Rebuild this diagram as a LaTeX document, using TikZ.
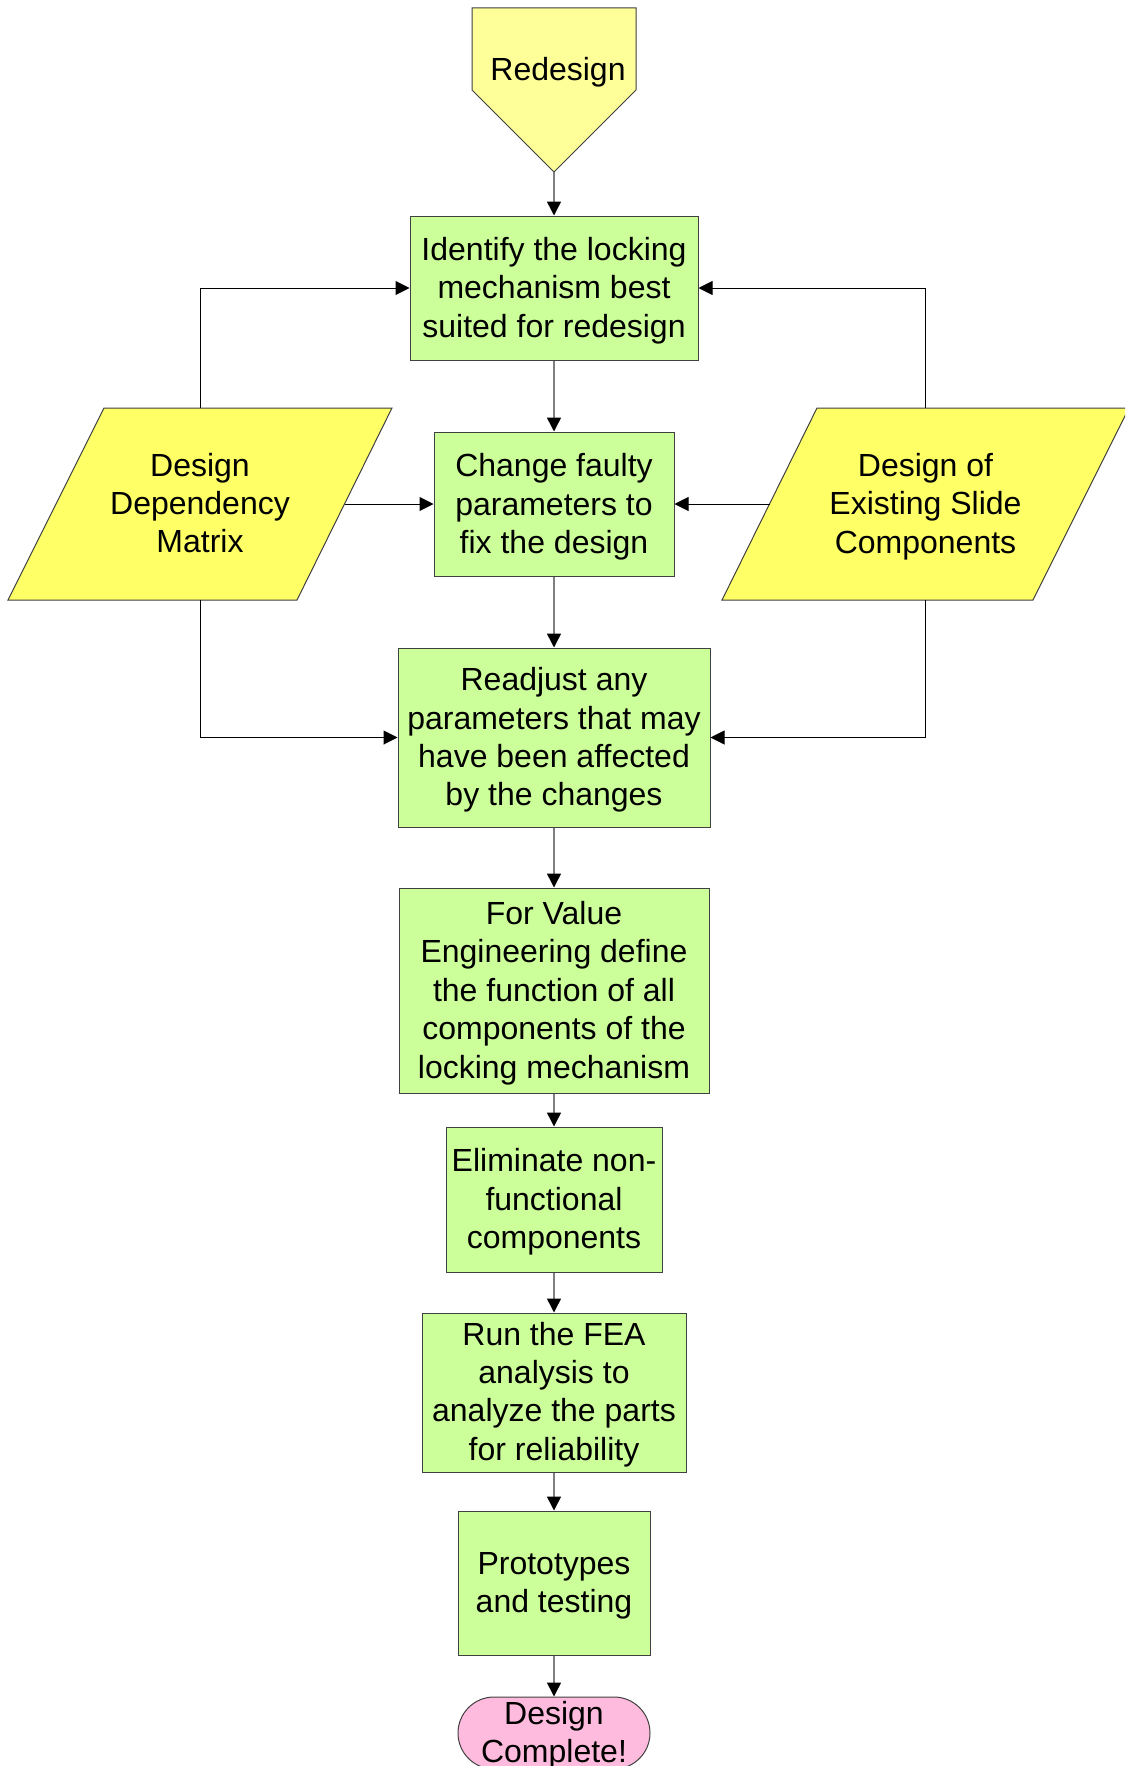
\documentclass[tikz,border=0pt]{standalone}
\usepackage{fontspec}
\setmainfont{Liberation Sans}
\usetikzlibrary{arrows.meta}

\definecolor{boxgreen}{HTML}{CCFF99}
\definecolor{inyellow}{HTML}{FFFF66}
\definecolor{startyellow}{HTML}{FFFF99}
\definecolor{endpink}{HTML}{FFBBDD}
\definecolor{edgegray}{HTML}{404040}
\definecolor{flowgray}{HTML}{7F7F7F}

\begin{document}
\begin{tikzpicture}[x=0.5pt,y=-0.5pt,
  every node/.style={font=\fontsize{16pt}{19.2pt}\selectfont, align=center, inner sep=0pt},
  stepbox/.style={draw=edgegray, line width=0.5pt, fill=boxgreen, rectangle},
  inputshape/.style={draw=edgegray, line width=0.5pt, fill=inyellow},
  startshape/.style={draw=edgegray, line width=0.5pt, fill=startyellow},
  endshape/.style={draw=edgegray, line width=0.5pt, fill=endpink, rectangle, rounded corners=18pt},
  flow/.style={draw=flowgray, line width=0.75pt, -{Triangle[length=7pt,width=7pt,fill=black,color=black]}},
  feed/.style={draw=black, line width=0.5pt, -{Triangle[length=7pt,width=7pt,fill=black]}},
  label/.style={inner sep=0pt},
]
\useasboundingbox (0,0) rectangle (1125,1766);
\clip (0,0) rectangle (1125,1766);

% start: off-page connector shape
\draw[startshape] (472,8) -- (636,8) -- (636,90) -- (554,172) -- (472,90) -- cycle;
\coordinate (start-tip) at (554,172);
\node[label] (start) at (558,72) {Redesign};

% process steps (empty boxes, text placed separately)
\node[stepbox, minimum width=144pt, minimum height=72pt] (identify) at (554,288) {};
\node[stepbox, minimum width=120pt, minimum height=72pt] (change) at (554,504) {};
\node[stepbox, minimum width=156pt, minimum height=89.5pt] (readjust) at (554,737.5) {};
\node[stepbox, minimum width=155pt, minimum height=102.5pt] (value) at (554,990.5) {};
\node[stepbox, minimum width=108pt, minimum height=72.5pt] (elim) at (554,1199.5) {};
\node[stepbox, minimum width=132pt, minimum height=79.5pt] (fea) at (554,1392.5) {};
\node[stepbox, minimum width=96pt, minimum height=72pt] (proto) at (554,1583) {};

\node[label] (identify-text) at (554,290.5) {Identify the locking\\mechanism best\\suited for redesign};
\node[label] (change-text) at (554,507) {Change faulty\\parameters to\\fix the design};
\node[label] (readjust-text) at (554,740) {Readjust any\\parameters that may\\have been affected\\by the changes};
\node[label] (value-text) at (554,993) {For Value\\Engineering define\\the function of all\\components of the\\locking mechanism};
\node[label] (elim-text) at (554,1202) {Eliminate non-\\functional\\components};
\node[label] (fea-text) at (554,1394.5) {Run the FEA\\analysis to\\analyze the parts\\for reliability};
\node[label] (proto-text) at (554,1586) {Prototypes\\and testing};

% terminator
\node[endshape, minimum width=96pt, minimum height=36pt] (done) at (554,1733) {};
\node[label] (done-text) at (554,1735) {Design\\Complete!};

% data inputs (parallelograms)
\draw[inputshape] (104,408) -- (392,408) -- (297,600) -- (8,600) -- cycle;
\node[label] (ddm) at (200,503) {Design\\Dependency\\Matrix};
\coordinate (ddm-top) at (200,408);
\coordinate (ddm-right) at (345,504);
\coordinate (ddm-bottom) at (200,600);

\draw[inputshape] (817,408) -- (1129,408) -- (1033,600) -- (722,600) -- cycle;
\node[label] (slide) at (925.5,506.5) {Design of\\Existing Slide\\Components};
\coordinate (slide-top) at (925.5,408);
\coordinate (slide-left) at (769.5,504);
\coordinate (slide-bottom) at (925.5,600);

% main flow
\draw[flow] (start-tip) -- (identify.north);
\draw[flow] (identify) -- (change);
\draw[flow] (change) -- (readjust);
\draw[flow] (readjust) -- (value);
\draw[flow] (value) -- (elim);
\draw[flow] (elim) -- (fea);
\draw[flow] (fea) -- (proto);
\draw[flow] (proto) -- (done);

% inputs feeding the first three steps
\draw[feed] (ddm-top) |- (identify.west);
\draw[feed] (ddm-right) -- (change.west);
\draw[feed] (ddm-bottom) |- (readjust.west);
\draw[feed] (slide-top) |- (identify.east);
\draw[feed] (slide-left) -- (change.east);
\draw[feed] (slide-bottom) |- (readjust.east);
\end{tikzpicture}
\end{document}
